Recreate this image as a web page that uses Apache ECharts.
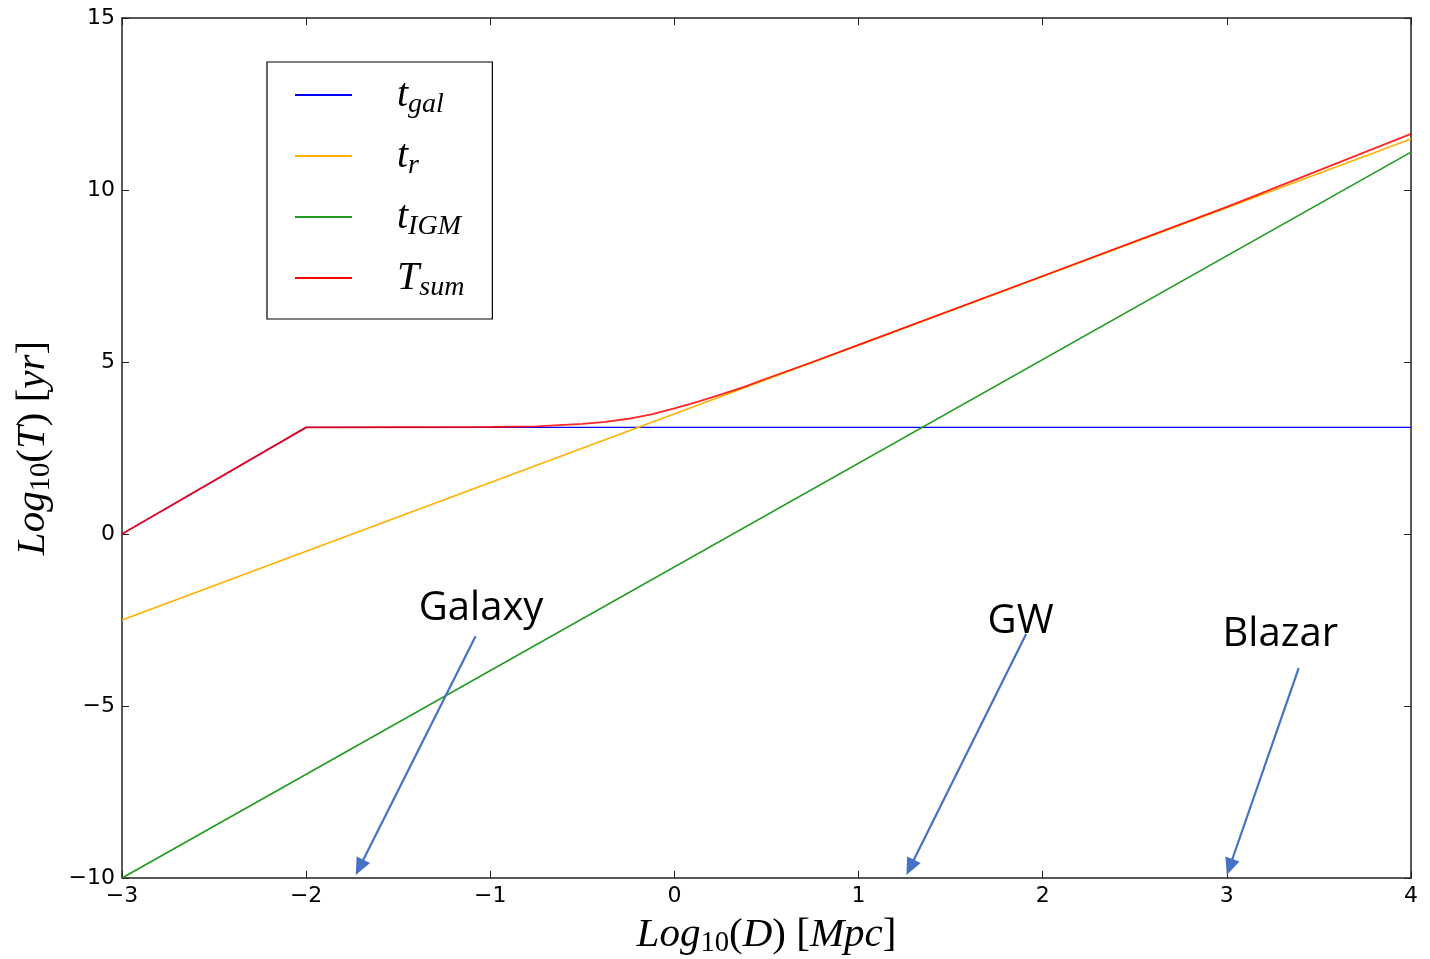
<!DOCTYPE html>
<html><head><meta charset="utf-8">
<script src="https://cdn.jsdelivr.net/npm/echarts@6/dist/echarts.min.js"></script>
<style>html,body{margin:0;padding:0;background:#fff}#c{width:1430px;height:959px}</style>
</head><body><div id="c"></div>
<script>
// ---- data ----
const galX = [-3, -2, 4];
const galY = [0.0, 3.1, 3.1];
const rX = [-3, 4];
const rY = [-2.5, 11.48];
const igmX = [-3, 4];
const igmY = [-10, 11.1];
const sumX = [-3, -2, -1, -0.75, -0.5, -0.375, -0.25, -0.125, 0, 0.125, 0.25, 0.375, 0.5, 0.625, 0.75, 1, 2, 3, 4];
const sumY = [0.0, 3.1, 3.11, 3.13, 3.2, 3.26, 3.35, 3.48, 3.65, 3.84, 4.05, 4.27, 4.52, 4.76, 5.0, 5.5, 7.5, 9.51, 11.63];
const xTicks = [-3, -2, -1, 0, 1, 2, 3, 4];
const yTicks = [-10, -5, 0, 5, 10, 15];
const annotations = [
  {text: 'Galaxy', tx: -1.05, ty: -2.17, from: [-1.08, -2.97], to: [-1.71, -9.69]},
  {text: 'GW', tx: 1.88, ty: -2.55, from: [1.91, -2.91], to: [1.28, -9.69]},
  {text: 'Blazar', tx: 3.29, ty: -2.92, from: [3.39, -3.9], to: [3.015, -9.68]}
];

const zip = (a, b) => a.map((v, i) => [v, b[i]]);
const minus = v => String(v).replace('-', '\u2212');
const serif = 'Liberation Serif';
const mathRich = (size, sub) => ({
  i: {fontFamily: serif, fontStyle: 'italic', fontSize: size, color: '#000'},
  n: {fontFamily: serif, fontSize: size, color: '#000'},
  s: {fontFamily: serif, fontSize: size * 0.7, color: '#000', padding: [size * sub, 0, 0, 0]},
  si: {fontFamily: serif, fontStyle: 'italic', fontSize: size * 0.7, color: '#000', padding: [size * sub, 0, 0, 0]}
});
const legendLabels = {
  gal: '{i|t}{si|gal}',
  r: '{i|t}{si|r}',
  IGM: '{i|t}{si|IGM}',
  sum: '{i|T}{si|sum}'
};

const chart = echarts.init(document.getElementById('c'));
const axisCommon = {
  axisLine: {show: true, onZero: false, lineStyle: {color: '#222', width: 1.5}},
  axisTick: {show: true, inside: true, length: 7, lineStyle: {color: '#222', width: 1}},
  splitLine: {show: false}
};
const legRich = mathRich(40, 0.5);
Object.values(legRich).forEach(s => { s.lineHeight = 40; });
legRich.i.padding = [0, 0, 0, 40];

const option = {
  animation: false,
  grid: {left: 122, right: 19, top: 18, bottom: 81, containLabel: false, outerBoundsMode: 'none'},
  xAxis: [
    Object.assign({type: 'value', min: -3, max: 4, interval: 1, position: 'bottom',
      axisLabel: {formatter: minus, fontFamily: 'DejaVu Sans', fontSize: 22, color: '#000', margin: 7},
      name: '{i|Log}{s|10}{n|(}{i|D}{n|) [}{i|Mpc}{n|]}', nameLocation: 'middle', nameGap: 34,
      nameTextStyle: {rich: mathRich(41, 0.42)}}, axisCommon),
    Object.assign({type: 'value', min: -3, max: 4, interval: 1, position: 'top', axisLabel: {show: false}}, axisCommon)
  ],
  yAxis: [
    Object.assign({type: 'value', min: -10, max: 15, interval: 5, position: 'left',
      axisLabel: {formatter: minus, fontFamily: 'DejaVu Sans', fontSize: 22, color: '#000', margin: 7},
      name: '{i|Log}{s|10}{n|(}{i|T}{n|) [}{i|yr}{n|]}', nameLocation: 'middle', nameGap: 66, nameRotate: 90,
      nameTextStyle: {rich: mathRich(41, 0.42)}}, axisCommon),
    Object.assign({type: 'value', min: -10, max: 15, interval: 5, position: 'right', axisLabel: {show: false}}, axisCommon)
  ],
  legend: {
    orient: 'vertical', left: 267, top: 62,
    padding: [9, 28, 17, 28], itemGap: 13, itemWidth: 57, itemHeight: 2,
    borderColor: '#000', borderWidth: 1.2, borderRadius: 0, backgroundColor: '#fff',
    icon: 'rect',
    data: ['gal', 'r', 'IGM', 'sum'],
    formatter: n => legendLabels[n],
    textStyle: {rich: legRich}
  },
  series: [
    {name: 'gal', type: 'line', data: zip(galX, galY), showSymbol: false, symbol: 'none', color: '#0000ff', lineStyle: {width: 1.3}},
    {name: 'r', type: 'line', data: zip(rX, rY), showSymbol: false, symbol: 'none', color: '#ffb000', lineStyle: {width: 1.6}},
    {name: 'IGM', type: 'line', data: zip(igmX, igmY), showSymbol: false, symbol: 'none', color: '#1f9a1f', lineStyle: {width: 1.6}},
    {name: 'sum', type: 'line', data: zip(sumX, sumY), showSymbol: false, symbol: 'none', color: '#ff0000', lineStyle: {width: 1.8, opacity: 0.85}},
    {name: 'arrows', type: 'line', data: [], silent: true,
      markLine: {
        silent: true, symbol: ['none', 'triangle'], symbolSize: [15, 17],
        label: {show: false},
        lineStyle: {color: '#4472c4', width: 2.2, type: 'solid'},
        data: annotations.map(a => [{coord: a.from}, {coord: a.to}])
      }}
  ]
};
chart.setOption(option);
const texts = annotations.map(a => {
  const p = chart.convertToPixel({gridIndex: 0}, [a.tx, a.ty]);
  return {type: 'text', x: p[0], y: p[1], style: {text: a.text, fontFamily: 'Open Sans', fontSize: 40,
    fill: '#000', align: 'center', verticalAlign: 'middle'}};
});
chart.setOption({graphic: texts});
</script></body></html>
